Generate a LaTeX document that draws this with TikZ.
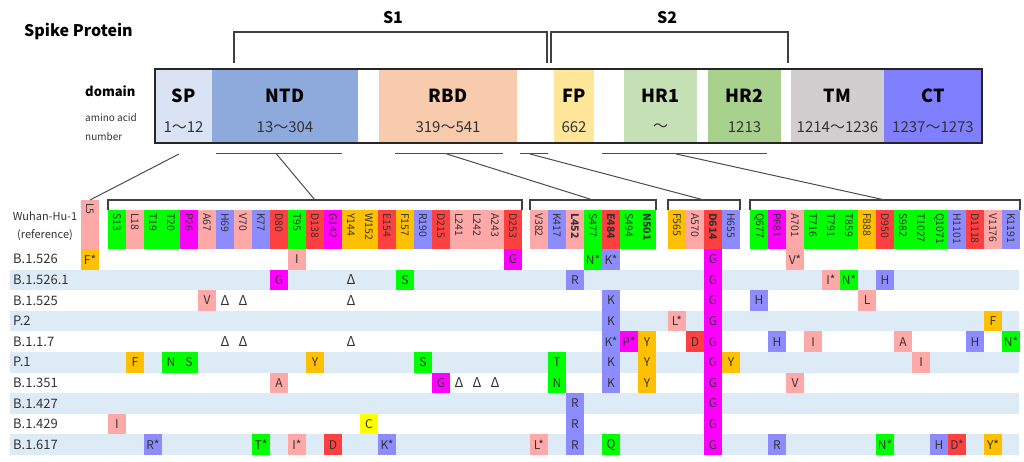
\documentclass[tikz,border=0pt]{standalone}
\usepackage{fontspec}
\setmainfont{Noto Sans CJK JP}
\usetikzlibrary{positioning}
\definecolor{spfill}{HTML}{DAE3F3}
\definecolor{ntdfill}{HTML}{8EA9DB}
\definecolor{rbdfill}{HTML}{F8CBAD}
\definecolor{fpfill}{HTML}{FFE699}
\definecolor{hronefill}{HTML}{C5E0B4}
\definecolor{hrtwofill}{HTML}{A9D18E}
\definecolor{tmfill}{HTML}{D0CECE}
\definecolor{ctfill}{HTML}{7F7FFF}
% residue classes
\definecolor{hyd}{HTML}{FFA8A8}
\definecolor{pol}{HTML}{00FF00}
\definecolor{spe}{HTML}{FF00FF}
\definecolor{bas}{HTML}{8C8CFF}
\definecolor{aci}{HTML}{FF4040}
\definecolor{aro}{HTML}{FFC000}
\definecolor{cys}{HTML}{FFFF00}
\definecolor{band}{HTML}{DDEBF7}
\definecolor{ink}{HTML}{333333}
\def\fsz#1{\fontsize{#1}{#1}\selectfont}
\def\del{{\fsz{13.5}Δ}}
\def\barbox{(155,69) rectangle (982,143)}
\def\sonebrace{(234,63) |- (547,32) -- (547,63)}
\def\stwobrace{(551,63) |- (788,32) -- (788,63)}

\begin{document}
\begin{tikzpicture}[x=1pt,y=-1pt,
  dom/.style={font=\fsz{18}\bfseries},
  aanum/.style={font=\fsz{15},text=ink},
  hlab/.style={rotate=-90,anchor=west,inner sep=0pt,font=\fsz{10.5},text=ink},
  cell/.style={minimum width=18pt,minimum height=20.6pt,inner sep=0pt,font=\fsz{12},text=ink},
  rowlab/.style={anchor=west,inner sep=0pt,font=\fsz{13},text=ink},
  link/.style={draw=black!70,line width=1pt},
  brace/.style={draw=black!75,line width=1.3pt}]
\useasboundingbox (0,0) rectangle (1024,462);

\node[anchor=west,inner sep=0pt,font=\fsz{16}\bfseries] (title) at (24,32) {Spike Protein};
\draw[brace] \sonebrace \stwobrace;
\node[font=\fsz{16}\bfseries] (s1) at (393,18) {S1};
\node[font=\fsz{16}\bfseries] (s2) at (667,18) {S2};

% domain bar
\foreach \x/\w/\c/\d/\a in {155/57/spfill/SP/1～12, 212/146/ntdfill/NTD/13～304,
    379/138/rbdfill/RBD/319～541, 554/40/fpfill/FP/662, 624/73/hronefill/HR1/～,
    708/73/hrtwofill/HR2/1213, 791/93/tmfill/TM/1214～1236, 884/98/ctfill/CT/1237～1273}{
  \fill[\c] (\x,69) rectangle ++(\w,74);
  \node[dom] (\d) at (\x+\w/2,96) {\d};
  \node[aanum] (\d-n) at (\x+\w/2,127.5) {\a};
}
\draw[line width=1.5pt,draw=black!85] \barbox;
\node[anchor=west,inner sep=0pt,font=\fsz{13}\bfseries] (domain) at (85,91) {domain};
\node[anchor=west,inner sep=0pt,font=\fsz{10},text=ink] (aa1) at (85,118) {amino acid};
\node[anchor=west,inner sep=0pt,font=\fsz{10},text=ink] (aa2) at (85,137) {number};

% rows
\foreach \l [count=\i] in {B.1.526, B.1.526.1, B.1.525, P.2, B.1.1.7, P.1, B.1.351, B.1.427, B.1.429, B.1.617}{
  \coordinate (r\i) at (0,259.3+20.6*\i-20.6);
  \ifodd\i\else \fill[band] (10,249+20.6*\i-20.6) rectangle ++(1009,20.6); \fi
  \node[rowlab] (row\i) at (13,259.3+20.6*\i-20.6) {\l};
}
\node[align=center,inner sep=0pt,font=\fontsize{11}{18}\selectfont,text=ink] (ref) at (45,226) {Wuhan-Hu-1\\(reference)};

% reference residues
\fill[hyd] (81,200) rectangle ++(18,49);
\coordinate (c5) at (90,0);
\coordinate (g-sp) at (90,200);
\node[hlab] (h5) at (90,203) {L5};
\foreach \x/\n/\t/\c in {
  108/13/S13/pol, 126/18/L18/hyd, 144/19/T19/pol, 162/20/T20/pol, 180/26/P26/spe,
  198/67/A67/hyd, 216/69/H69/bas, 234/70/V70/hyd, 252/77/K77/bas, 270/80/D80/aci,
  288/95/T95/pol, 306/138/D138/aci, 324/142/G142/spe, 342/144/Y144/aro, 360/152/W152/aro,
  378/154/E154/aci, 396/157/F157/aro, 414/190/R190/bas, 432/215/D215/aci, 450/241/L241/hyd,
  468/242/L242/hyd, 486/243/A243/hyd, 504/253/D253/aci,
  530/382/V382/hyd, 548/417/K417/bas, 566/452/\textbf{L452}/hyd, 584/477/S477/pol,
  602/484/\textbf{E484}/aci, 620/494/S494/pol, 638/501/\textbf{N501}/pol,
  668/565/F565/aro, 686/570/A570/hyd, 704/614/\textbf{D614}/aci, 722/655/H655/bas,
  750/677/Q677/pol, 768/681/P681/spe, 786/701/A701/hyd, 804/716/T716/pol, 822/791/T791/pol,
  840/859/T859/pol, 858/888/F888/aro, 876/950/D950/aci, 894/982/S982/pol, 912/1027/T1027/pol,
  930/1071/Q1071/pol, 948/1101/H1101/bas, 966/1118/D1118/aci, 984/1176/V1176/hyd, 1002/1191/K1191/bas}{
  \fill[\c] (\x,210) rectangle ++(18,39);
  \coordinate (c\n) at (\x+9,0);
  \node[hlab] (h\n) at (\x+9,213) {\t};
}

% brackets and links
\draw[brace] (108,210) |- coordinate[pos=.75] (g-ntd) (522,200) -- (522,210);
\draw[brace] (530,210) |- coordinate[pos=.75] (g-rbd) (656,200) -- (656,210);
\draw[brace] (668,210) |- coordinate[pos=.75] (g-fp) (740,200) -- (740,210);
\draw[brace] (750,210) |- coordinate[pos=.75] (g-ct) (1020,200) -- (1020,210);
\coordinate (u-sp) at (179,154);
\draw[link] (216,154) -- coordinate[pos=.48] (u-ntd) (342,154);
\draw[link] (395,154) -- coordinate[pos=.48] (u-rbd) (503,154);
\draw[link] (520,154) -- coordinate[pos=.36] (u-fp) (548,154);
\draw[link] (602,154) -- coordinate[pos=.45] (u-ct) (767,154);
\foreach \s in {sp,ntd,rbd,fp,ct} \draw[link] (u-\s) -- (g-\s);

% mutations
\foreach \r in {1,...,10} \node[cell,fill=spe] (m614-\r) at (c614 |- r\r) {G};
\foreach \n/\r/\t/\c in {
  5/1/F*/aro, 95/1/I/hyd, 253/1/G/spe, 477/1/N*/pol, 484/1/K*/bas, 701/1/V*/hyd,
  80/2/G/spe, 144/2/\del/none, 157/2/S/pol, 452/2/R/bas, 791/2/I*/hyd, 859/2/N*/pol, 950/2/H/bas,
  67/3/V/hyd, 69/3/\del/none, 70/3/\del/none, 144/3/\del/none, 484/3/K/bas, 677/3/H/bas, 888/3/L/hyd,
  484/4/K/bas, 565/4/L*/hyd, 1176/4/F/aro,
  69/5/\del/none, 70/5/\del/none, 144/5/\del/none, 484/5/K*/bas, 494/5/P*/spe, 501/5/Y/aro,
  570/5/D/aci, 681/5/H/bas, 716/5/I/hyd, 982/5/A/hyd, 1118/5/H/bas, 1191/5/N*/pol,
  18/6/F/aro, 20/6/N/pol, 26/6/S/pol, 138/6/Y/aro, 190/6/S/pol, 417/6/T/pol, 484/6/K/bas,
  501/6/Y/aro, 655/6/Y/aro, 1027/6/I/hyd,
  80/7/A/hyd, 215/7/G/spe, 241/7/\del/none, 242/7/\del/none, 243/7/\del/none, 417/7/N/pol,
  484/7/K/bas, 501/7/Y/aro, 701/7/V/hyd,
  452/8/R/bas,
  13/9/I/hyd, 152/9/C/cys, 452/9/R/bas,
  19/10/R*/bas, 77/10/T*/pol, 95/10/I*/hyd, 142/10/D/aci, 154/10/K*/bas, 382/10/L*/hyd,
  452/10/R/bas, 484/10/Q/pol, 681/10/R/bas, 950/10/N*/pol, 1071/10/H/bas, 1101/10/D*/aci,
  1176/10/Y*/aro}
  \node[cell,fill=\c] (m\n-\r) at (c\n |- r\r) {\t};
\end{tikzpicture}
\end{document}
